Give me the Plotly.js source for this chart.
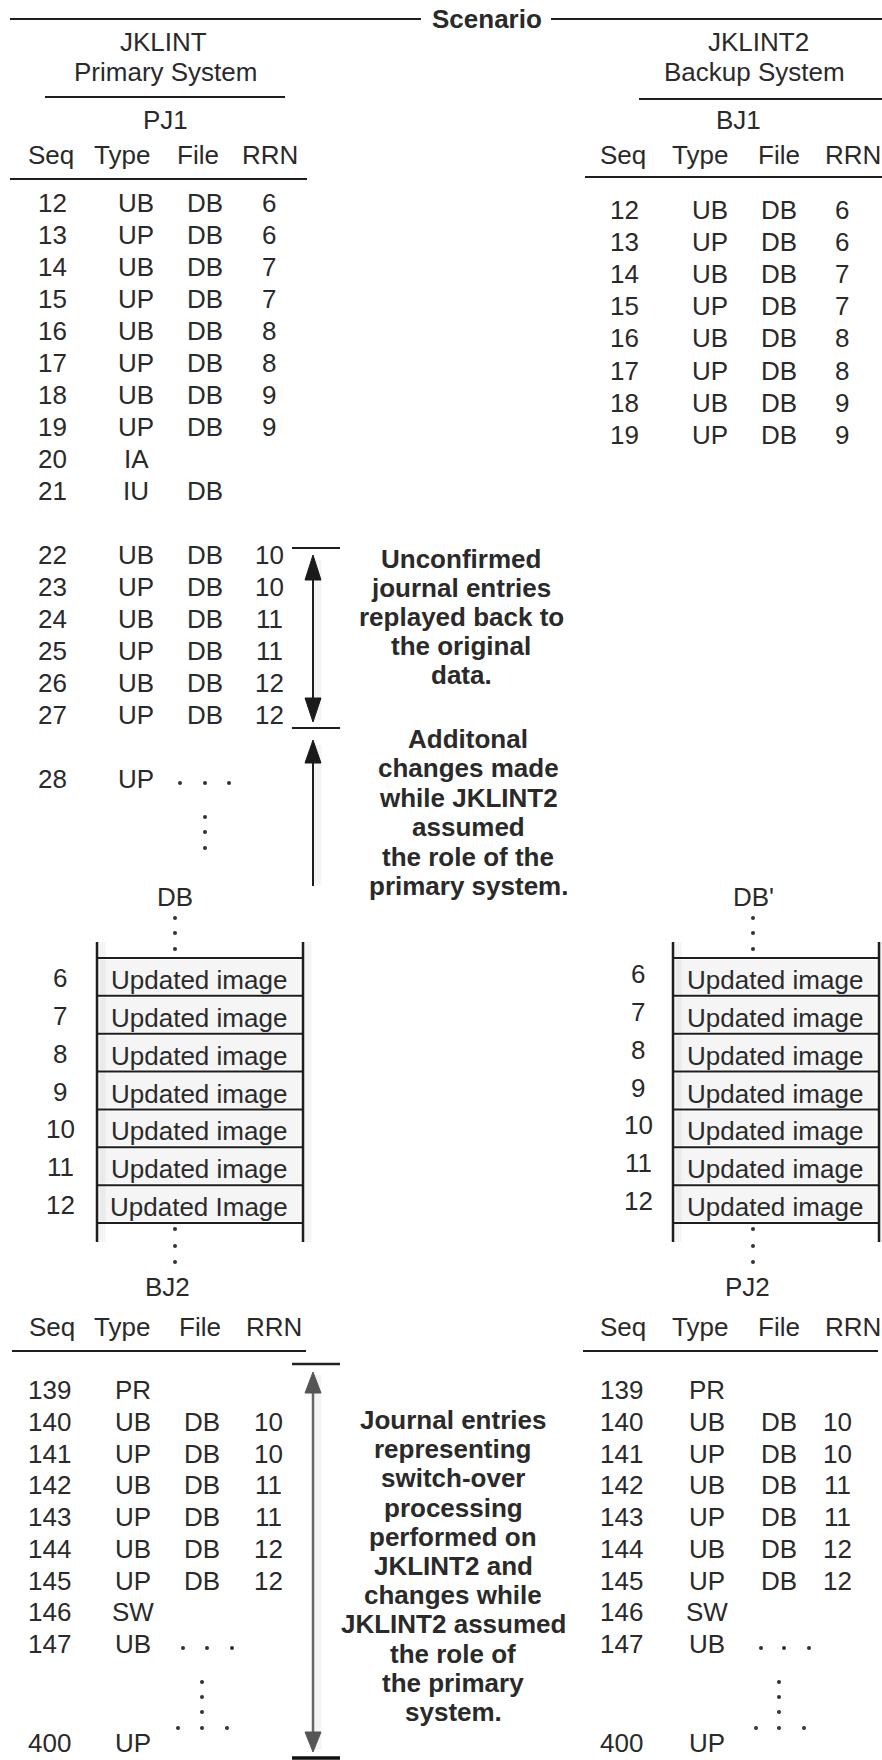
<!DOCTYPE html>
<html><head><meta charset="utf-8">
<script src="https://cdn.plot.ly/plotly-3.0.1.min.js"></script>
<style>html,body{margin:0;padding:0;background:#fff}#chart{width:882px;height:1760px}</style>
</head><body><div id="chart"></div>
<script>
// ---------- DATA ----------
const titleText = "Scenario";
const leftSystem = ["JKLINT", "Primary System"];
const rightSystem = ["JKLINT2", "Backup System"];
const colHeaders = ["Seq", "Type", "File", "RRN"];

const pj1Seq  = [12,13,14,15,16,17,18,19,20,21,22,23,24,25,26,27,28];
const pj1Type = ["UB","UP","UB","UP","UB","UP","UB","UP","IA","IU","UB","UP","UB","UP","UB","UP","UP"];
const pj1File = ["DB","DB","DB","DB","DB","DB","DB","DB","","DB","DB","DB","DB","DB","DB","DB",""];
const pj1Rrn  = ["6","6","7","7","8","8","9","9","","","10","10","11","11","12","12",""];

const bj1Seq  = [12,13,14,15,16,17,18,19];
const bj1Type = ["UB","UP","UB","UP","UB","UP","UB","UP"];
const bj1File = ["DB","DB","DB","DB","DB","DB","DB","DB"];
const bj1Rrn  = ["6","6","7","7","8","8","9","9"];

const dbRrn       = [6,7,8,9,10,11,12];
const dbLeftImg   = ["Updated image","Updated image","Updated image","Updated image","Updated image","Updated image","Updated Image"];
const dbRightImg  = ["Updated image","Updated image","Updated image","Updated image","Updated image","Updated image","Updated image"];

const bj2Seq  = [139,140,141,142,143,144,145,146,147,400];
const bj2Type = ["PR","UB","UP","UB","UP","UB","UP","SW","UB","UP"];
const bj2File = ["","DB","DB","DB","DB","DB","DB","","",""];
const bj2Rrn  = ["","10","10","11","11","12","12","","",""];

const pj2Seq  = [139,140,141,142,143,144,145,146,147,400];
const pj2Type = ["PR","UB","UP","UB","UP","UB","UP","SW","UB","UP"];
const pj2File = ["","DB","DB","DB","DB","DB","DB","","",""];
const pj2Rrn  = ["","10","10","11","11","12","12","","",""];

const note1 = ["Unconfirmed","journal entries","replayed back to","the original","data."];
const note2 = ["Additonal","changes made","while JKLINT2","assumed","the role of the","primary system."];
const note3 = ["Journal entries","representing","switch-over","processing","performed on","JKLINT2 and","changes while","JKLINT2 assumed","the role of","the primary","system."];

// ---------- LAYOUT ----------
const FONT = "Liberation Sans, Arial, sans-serif";
const FS = 26;
const TXT = "#2a2a2a";
const LINE = "#1e1e1e";
const ann = [];
const shapes = [];
const dotX = [], dotY = [];

function t(x, y, text, o) {
  o = o || {};
  ann.push({x:x, y:y, xref:"x", yref:"y", text:text, showarrow:false,
    xanchor:o.xa||"center", yanchor:"middle",
    font:{family:FONT, size:o.size||FS, color:o.color||TXT, weight:o.bold?"bold":"normal"}});
}
function ln(x0,y0,x1,y1,w,c) {
  shapes.push({type:"line", xref:"x", yref:"y", x0:x0,y0:y0,x1:x1,y1:y1, line:{color:c||LINE, width:w||2}});
}
function head(x, tip, base, c) {
  shapes.push({type:"path", xref:"x", yref:"y",
    path:`M ${x},${tip} L ${x-8},${base} L ${x+8},${base} Z`, fillcolor:c, line:{color:c, width:1}});
}
function shadow(x, y0, y1) {
  shapes.push({type:"line", xref:"x", yref:"y", x0:x+4,y0:y0,x1:x+4,y1:y1, line:{color:"rgba(0,0,0,0.045)", width:9}, layer:"below"});
}
function dots(xs, ys) { xs.forEach((x,i)=>{dotX.push(x); dotY.push(ys[i]);}); }

const yOff = 2; // visual centring offset for text

// Title + top rule
ln(10,19,421,19,2);
ln(551,19,882,19,2);
t(487, 17+yOff, titleText, {bold:true});

// System headings
t(163, 40+yOff, leftSystem[0]); t(165, 70+yOff, leftSystem[1]);
ln(45,97,285,97,2);
t(758, 40+yOff, rightSystem[0]); t(754, 70+yOff, rightSystem[1]);
ln(639,99,882,99,2);

// Journal names
t(165, 118+yOff, "PJ1"); t(738, 118+yOff, "BJ1");
t(167, 1285+yOff, "BJ2"); t(747, 1285+yOff, "PJ2");

// Column headers
const hdrLeftTop = [51,122,198,270], hdrRightTop = [623,700,779,853];
const hdrLeftBot = [52,122,200,274], hdrRightBot = [623,700,779,853];
colHeaders.forEach((h,i)=>{
  t(hdrLeftTop[i], 153+yOff, h); t(hdrRightTop[i], 153+yOff, h);
  t(hdrLeftBot[i], 1325+yOff, h); t(hdrRightBot[i], 1325+yOff, h);
});
ln(10,179,307,179,2); ln(585,177,882,177,2);
ln(12,1351,306,1351,2); ln(583,1351,878,1351,2);

function table(seq, type, file, rrn, cols, y0, step, slotFn) {
  seq.forEach((s,i)=>{
    const y = y0 + slotFn(s,i)*step + yOff;
    t(cols[0], y, String(s));
    if (type[i]) t(cols[1], y, type[i]);
    if (file[i]) t(cols[2], y, file[i]);
    if (rrn[i])  t(cols[3], y, rrn[i]);
  });
}
// PJ1: blank row after 21 and after 27
table(pj1Seq, pj1Type, pj1File, pj1Rrn, [52,136,205,269], 200.7, 32,
  (s,i)=> i + (s>21?1:0) + (s>27?1:0));
table(bj1Seq, bj1Type, bj1File, bj1Rrn, [624,710,779,842], 208, 32.1, (s,i)=>i);
const botSlot = (s,i)=> s===400 ? 11.12 : i;
table(bj2Seq, bj2Type, bj2File, bj2Rrn, [49,133,202,268], 1388, 31.75, botSlot);
table(pj2Seq, pj2Type, pj2File, pj2Rrn, [621,707,779,837], 1388, 31.75, botSlot);

// Dots for continued entries
dots([180,205,229], [783,783,783]);
dots([205,205,205], [817,832,848]);
dots([183,207,232], [1648,1648,1648]);
dots([202,202,202], [1682,1697,1712]);
dots([178,202,227], [1728,1728,1728]);
dots([761,784,809], [1648,1648,1648]);
dots([779,779,779], [1682,1697,1712]);
dots([756,779,804], [1728,1728,1728]);

// Database boxes
function dbBox(xl, xr, labelX, label, numX, numDy, imgs) {
  const top = 958, step = 37.86;
  t(labelX, 895+yOff, label);
  dots([labelX,labelX,labelX],[918,933,949]);
  dots([labelX,labelX,labelX],[1229,1246,1262]);
  for (let k=0;k<imgs.length;k++){
    shapes.push({type:"rect", xref:"x", yref:"y", x0:xl+3, x1:xr-3, y0:top+k*step+2, y1:top+(k+1)*step-2,
      fillcolor:"#f5f5f5", line:{width:0}, layer:"below"});
  }
  for (let k=0;k<=imgs.length;k++) ln(xl, top+k*step, xr, top+k*step, 2);
  shadow(xl, 942, 1242); shadow(xr, 942, 1242);
  ln(xl,942,xl,1242,2.5); ln(xr,942,xr,1242,2.5);
  imgs.forEach((s,k)=>{
    const yc = top + (k+0.5)*step;
    t(numX, yc+numDy+yOff, String(dbRrn[k]));
    t((xl+xr)/2 - 1, yc+1+yOff, s);
  });
}
dbBox(97, 303, 175, "DB", 60, -1, dbLeftImg);
dbBox(673, 879, 753, "DB'", 638, -5, dbRightImg);

// Arrows
const AX = 313;
// double arrow (unconfirmed)
shadow(AX, 560, 720);
ln(292,548,340,548,2); ln(292,728,340,728,2);
ln(AX,575,AX,702,2);
head(AX,555,580,"#1a1a1a"); head(AX,722,698,"#1a1a1a");
// up arrow (additional changes)
shadow(AX, 745, 885);
ln(AX,758,AX,886,2);
head(AX,740,763,"#1a1a1a");
// long gray arrow (switch-over)
shadow(AX, 1375, 1750);
ln(292,1364,340,1364,2.5,"#222");
ln(AX,1388,AX,1736,2.5,"#666");
head(AX,1372,1393,"#555"); head(AX,1752,1732,"#555");
ln(292,1758,340,1758,3.5,"#111");

// Notes (bold)
note1.forEach((s,i)=> t(461, 557+i*29.1+yOff, s, {bold:true}));
note2.forEach((s,i)=> t(468, 737+i*29.4+yOff, s, {bold:true}));
note3.forEach((s,i)=> t(453, 1418+i*29.2+yOff, s, {bold:true}));

const data = [{type:"scatter", mode:"markers", x:dotX, y:dotY, hoverinfo:"skip",
  marker:{size:4, color:"#333"}, showlegend:false}];

const layout = {
  width:882, height:1760, margin:{l:0,r:0,t:0,b:0,pad:0},
  paper_bgcolor:"#fff", plot_bgcolor:"#fff", showlegend:false,
  xaxis:{range:[0,882], visible:false, fixedrange:true},
  yaxis:{range:[1760,0], visible:false, fixedrange:true},
  annotations:ann, shapes:shapes
};
Plotly.newPlot("chart", data, layout, {staticPlot:true, displayModeBar:false});
</script>
</body></html>
